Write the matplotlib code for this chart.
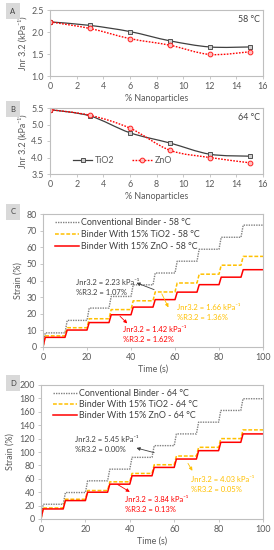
import numpy as np
import matplotlib
matplotlib.use("Agg")
import matplotlib.pyplot as plt
from matplotlib.path import Path
from matplotlib.patches import PathPatch
from matplotlib.lines import Line2D

plt.rcParams['font.family'] = ['Lato', 'DejaVu Sans']

# ---------------- data ----------------
nano_pct = [0, 3, 6, 9, 12, 15]
jnr58_tio2 = [2.23, 2.15, 2.01, 1.80, 1.66, 1.66]
jnr58_zno = [2.23, 2.08, 1.85, 1.70, 1.49, 1.55]
jnr64_tio2 = [5.45, 5.26, 4.75, 4.44, 4.10, 4.04]
jnr64_zno = [5.45, 5.28, 4.89, 4.22, 4.00, 3.84]

cycle_start = [0, 10, 20, 30, 40, 50, 60, 70, 80, 90]
strain58_conv = [8.5, 16.0, 23.4, 30.4, 37.4, 44.5, 51.6, 58.8, 66.0, 73.3]
strain58_tio2 = [6.7, 11.6, 17.0, 22.5, 27.8, 33.1, 38.5, 43.8, 49.2, 54.5]
strain58_zno = [5.8, 10.2, 14.7, 19.4, 24.0, 28.5, 33.0, 37.5, 42.0, 46.5]
strain64_conv = [22.0, 39.5, 57.0, 74.4, 92.0, 109.5, 127.0, 144.5, 162.0, 179.5]
strain64_tio2 = [16.5, 29.5, 42.5, 55.5, 68.0, 81.0, 94.0, 107.0, 120.0, 133.0]
strain64_zno = [15.0, 27.5, 40.0, 52.0, 64.5, 77.0, 89.5, 102.0, 114.5, 127.0]

W, H = 274, 550
fig = plt.figure(figsize=(W / 100, H / 100), dpi=100)

GRID = '#bfbfbf'
TICKC = '#595959'
FS = 6.4
AFS = 5.5

def rect(l, r, t, b):
    return [l / W, 1 - b / H, (r - l) / W, (b - t) / H]

def style(ax):
    for s in ax.spines.values():
        s.set_color(GRID)
        s.set_linewidth(0.8)
    ax.tick_params(axis='both', labelsize=FS, colors=GRID, labelcolor=TICKC,
                   length=2.5, width=0.6, pad=2)

def smooth_path(x, y):
    P = np.column_stack([x, y]).astype(float)
    n = len(P)
    verts = [P[0]]
    codes = [Path.MOVETO]
    for i in range(n - 1):
        p0 = P[i - 1] if i > 0 else P[i]
        p1 = P[i]
        p2 = P[i + 1]
        p3 = P[i + 2] if i + 2 < n else P[i + 1]
        c1 = p1 + (p2 - p0) / 6.0
        c2 = p2 - (p3 - p1) / 6.0
        verts += [c1, c2, p2]
        codes += [Path.CURVE4] * 3
    return Path(verts, codes)

def jnr_panel(ax, tio2, zno, ylim, yticks, temp, legend=False):
    style(ax)
    ax.add_patch(PathPatch(smooth_path(nano_pct, tio2), fill=False,
                           edgecolor='#404040', lw=0.9))
    ax.add_patch(PathPatch(smooth_path(nano_pct, zno), fill=False,
                           edgecolor='#ff0000', lw=1.0, linestyle=(0, (1.2, 1.0))))
    ax.plot(nano_pct, tio2, linestyle='none', marker='s', ms=3.4,
            mfc='#d0d0d0', mec='#505050', mew=0.7)
    ax.plot(nano_pct, zno, linestyle='none', marker='o', ms=3.4,
            mfc='#ffc0c0', mec='#ff2020', mew=0.7)
    ax.set_xlim(0, 16)
    ax.set_xticks(range(0, 17, 2))
    ax.set_ylim(*ylim)
    ax.set_yticks(yticks)
    ax.set_yticklabels([f'{v:.1f}' for v in yticks])
    ax.set_xlabel('% Nanoparticles', fontsize=FS, color=TICKC, labelpad=2)
    ax.set_ylabel('Jnr 3.2 (kPa⁻¹)', fontsize=FS, color=TICKC, labelpad=3)
    ax.text(0.985, 0.86, temp, transform=ax.transAxes, ha='right', va='center',
            fontsize=FS, color='#404040')
    if legend:
        h1 = Line2D([], [], color='#404040', lw=0.9, marker='s', ms=3.4,
                    mfc='#d0d0d0', mec='#505050', mew=0.7)
        h2 = Line2D([], [], color='#ff0000', lw=1.0, linestyle=(0, (1.2, 1.0)),
                    marker='o', ms=3.4, mfc='#ffc0c0', mec='#ff2020', mew=0.7)
        leg = ax.legend([h1, h2], ['TiO2', 'ZnO'], ncol=2, loc='lower left',
                        bbox_to_anchor=(0.07, 0.02), frameon=False, fontsize=FS,
                        handlelength=2.2, columnspacing=2.0, handletextpad=0.3)
        for t in leg.get_texts():
            t.set_color(TICKC)

def step_xy(levels):
    xs, ys = [0.0], [0.0]
    for t0, lv in zip(cycle_start, levels):
        if t0 > 0:
            xs.append(t0)
            ys.append(ys[-1])
        xs.append(t0 + 1)
        ys.append(lv)
    xs.append(100)
    ys.append(ys[-1])
    return xs, ys

GOLD = '#ffc000'
RED = '#ff0000'
GREY = '#808080'

def strain_panel(ax, conv, tio2, zno, ylim, yticks, temp, notes, lspace):
    style(ax)
    x, y = step_xy(conv)
    ax.plot(x, y, color=GREY, lw=1.0, linestyle=(0, (1, 0.8)),
            label=f'Conventional Binder - {temp}')
    x, y = step_xy(tio2)
    ax.plot(x, y, color=GOLD, lw=1.1, linestyle=(0, (2.5, 1.2)),
            label=f'Binder With 15% TiO2 - {temp}')
    x, y = step_xy(zno)
    ax.plot(x, y, color=RED, lw=1.1, label=f'Binder With 15% ZnO - {temp}')
    ax.set_xlim(0, 100)
    ax.set_xticks(range(0, 101, 20))
    ax.set_ylim(*ylim)
    ax.set_yticks(yticks)
    ax.set_xlabel('Time (s)', fontsize=FS, color=TICKC, labelpad=2)
    ax.set_ylabel('Strain (%)', fontsize=FS, color=TICKC, labelpad=3)
    leg = ax.legend(loc='upper left', bbox_to_anchor=(0.02, 1.03), frameon=False,
                    fontsize=FS, handlelength=2.6, handletextpad=0.25,
                    labelspacing=lspace)
    for t in leg.get_texts():
        t.set_color('#404040')
    for (txt, col, tpos, head, tail) in notes:
        ax.text(tpos[0], tpos[1], txt, color=col, fontsize=AFS, ha='left',
                va='center', linespacing=1.5)
        ax.annotate('', xy=head, xytext=tail,
                    arrowprops=dict(arrowstyle='-|>', color=col, lw=0.6,
                                    mutation_scale=5, shrinkA=0, shrinkB=0))

# Panel A
axA = fig.add_axes(rect(50, 263, 10, 76))
jnr_panel(axA, jnr58_tio2, jnr58_zno, (1.0, 2.5), [1.0, 1.5, 2.0, 2.5], '58 °C')
# Panel B
axB = fig.add_axes(rect(50, 263, 108, 174))
jnr_panel(axB, jnr64_tio2, jnr64_zno, (3.5, 5.5), [3.5, 4.0, 4.5, 5.0, 5.5],
          '64 °C', legend=True)

# Panel C
axC = fig.add_axes(rect(43, 263, 214, 347))
strain_panel(axC, strain58_conv, strain58_tio2, strain58_zno, (0, 80),
             range(0, 81, 10), '58 °C', [
    ('Jnr3.2 = 2.23 kPa⁻¹\n%R3.2 = 1.07%', '#404040', (15.0, 35.5),
     (42.5, 38.6), (50.5, 34.5)),
    ('Jnr3.2 = 1.66 kPa⁻¹\n%R3.2 = 1.36%', GOLD, (61, 20.8),
     (57.0, 23.8), (54.0, 32.0)),
    ('Jnr3.2 = 1.42 kPa⁻¹\n%R3.2 = 1.62%', RED, (36.4, 7.5),
     (38.3, 14.2), (35.0, 18.5)),
], 0.35)

# Panel D
axD = fig.add_axes(rect(41, 263, 385, 519))
strain_panel(axD, strain64_conv, strain64_tio2, strain64_zno, (0, 200),
             range(0, 201, 20), '64 °C', [
    ('Jnr3.2 = 5.45 kPa⁻¹\n%R3.2 = 0.00%', '#404040', (15.5, 111),
     (43.0, 106.0), (51.0, 99.0)),
    ('Jnr3.2 = 4.03 kPa⁻¹\n%R3.2 = 0.05%', GOLD, (67.4, 51.5),
     (68.2, 72.0), (66.2, 83.0)),
    ('Jnr3.2 = 3.84 kPa⁻¹\n%R3.2 = 0.13%', RED, (37.8, 21),
     (40.0, 40.5), (34.5, 51.5)),
], 0.25)

# panel letters
for lab, (cx, cy) in zip('ABCD', [(13, 11), (13, 109), (13, 212), (13, 383)]):
    fig.text(cx / W, 1 - cy / H, lab, ha='center', va='center', fontsize=5.5,
             color='#404040',
             bbox=dict(boxstyle='square,pad=0.55', facecolor='#d9d9d9',
                       edgecolor='none'))

fig.savefig('out.png', dpi=100)
